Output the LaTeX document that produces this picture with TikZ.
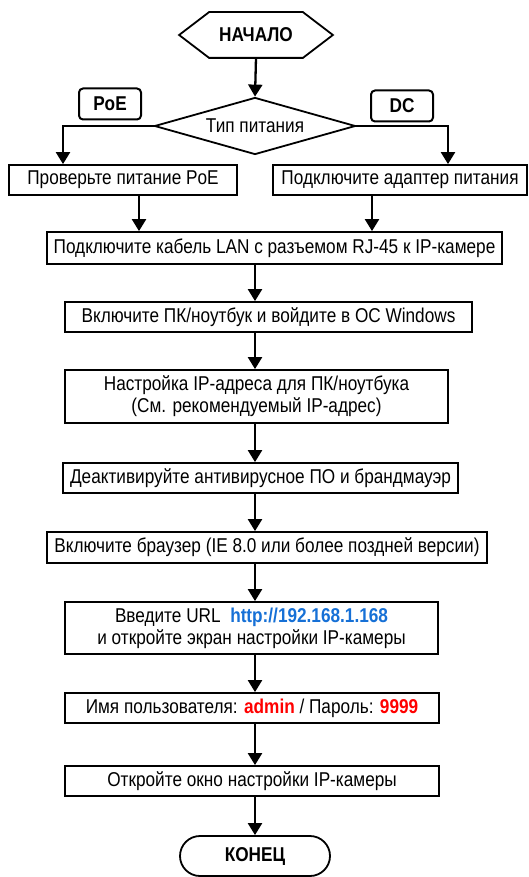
\documentclass[tikz,border=0pt]{standalone}
\usepackage{fontspec}
\setmainfont{Liberation Sans}[FakeStretch=0.86]
\usepackage{tikz}
\usetikzlibrary{shapes.geometric}
\usetikzlibrary{shapes.misc}
\usetikzlibrary{arrows.meta}
\definecolor{urlblue}{RGB}{22,112,214}

\tikzset{
   box/.style={draw, line width=1.8pt, inner sep=0pt, align=center,
               font=\fontsize{20}{22}\selectfont},
   tag/.style={draw, line width=2pt, rounded corners=4pt, minimum width=62pt,
               minimum height=31pt, font=\bfseries\fontsize{20}{22}\selectfont},
   arr/.style={line width=2.3pt, -{Triangle[length=12pt,width=14pt]}},
}

\begin{document}
\begin{tikzpicture}[x=1pt,y=-1pt]
   \useasboundingbox (0,0) rectangle (529,877);
   % top: start, choice of power supply
   \node [box, draw=none, minimum width=152pt, minimum height=44pt,
          font=\bfseries\fontsize{20}{22}\selectfont] (start) at (256,35) {НАЧАЛО};
   \draw [line width=1.8pt] (start.west) -- ([xshift=30pt]start.north west)
      -- ([xshift=-30pt]start.north east) -- (start.east)
      -- ([xshift=-30pt]start.south east) -- ([xshift=30pt]start.south west) -- cycle;
   \node [box, diamond, aspect=3.5, minimum width=201pt, minimum height=57pt] (power) at (255,126) {Тип питания};
   \node [tag] (poe) at (110,104) {PoE};
   \node [tag] (dc)  at (402,106) {DC};
   \node [box, minimum width=228pt, minimum height=30pt] (chkpoe) at (123,180) {Проверьте питание PoE};
   \node [box, minimum width=254pt, minimum height=30pt] (adapter) at (400,180) {Подключите адаптер питания};
   % main column
   \node [box, minimum width=455pt, minimum height=32pt] (lan)    at (274.5,248) {Подключите кабель LAN с разъемом RJ-45 к IP-камере};
   \node [box, minimum width=407pt, minimum height=30pt] (pc)     at (268.5,317) {Включите ПК/ноутбук и войдите в ОС Windows};
   \node [box, minimum width=383pt, minimum height=53pt] (ipaddr) at (256.5,396.5) {Настройка IP-адреса для ПК/ноутбука\\(См. рекомендуемый IP-адрес)};
   \node [box, minimum width=395pt, minimum height=30pt] (fwall)  at (260.5,478) {Деактивируйте антивирусное ПО и брандмауэр};
   \node [box, minimum width=440pt, minimum height=31pt] (browser) at (267,547.5) {Включите браузер (IE 8.0 или более поздней версии)};
   \node [box, minimum width=373pt, minimum height=52pt] (url)    at (251.5,628) {Введите URL\ \ \textcolor{urlblue}{\bfseries http://192.168.1.168}\\и откройте экран настройки IP-камеры};
   \node [box, minimum width=374pt, minimum height=30pt] (login)  at (252,708) {Имя пользователя: \textcolor{red}{\bfseries admin} / Пароль: \textcolor{red}{\bfseries 9999}};
   \node [box, minimum width=374pt, minimum height=30pt] (setup)  at (252,781) {Откройте окно настройки IP-камеры};
   \node [box, rounded rectangle, minimum width=150pt, minimum height=40pt,
          font=\bfseries\fontsize{20}{22}\selectfont] (stop) at (255,856) {КОНЕЦ};
   % x positions of the arrows
   \coordinate (mid) at (255,0);
   \coordinate (xl)  at (63,0);
   \coordinate (xr)  at (448,0);
   \coordinate (xbl) at (139,0);
   \coordinate (xbr) at (372,0);
   % connectors
   \draw [arr] (start.south) -- (power.north);
   \draw [arr] (power.west) -| (xl |- chkpoe.north);
   \draw [arr] (power.east) -| (xr |- adapter.north);
   \draw [arr] (xbl |- chkpoe.south) -- (xbl |- lan.north);
   \draw [arr] (xbr |- adapter.south) -- (xbr |- lan.north);
   \foreach \a/\b in {lan/pc, pc/ipaddr, ipaddr/fwall, fwall/browser,
                      browser/url, url/login, login/setup, setup/stop}
      \draw [arr] (mid |- \a.south) -- (mid |- \b.north);
\end{tikzpicture}
\end{document}
